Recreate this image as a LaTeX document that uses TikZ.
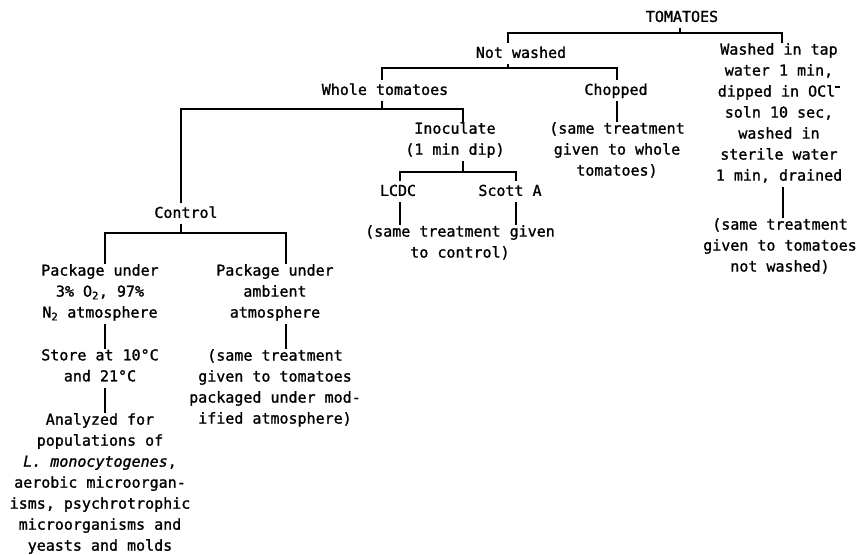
\documentclass[tikz,border=0pt]{standalone}
\usepackage{fontspec}
\setmonofont{DejaVu Sans Mono}[FakeBold=1.2]
\begin{document}
\begin{tikzpicture}[x=1pt,y=-1pt,
  lbl/.style={anchor=north,align=center,inner sep=0pt,font=\ttfamily\fontsize{15}{21}\selectfont,
    execute at begin node=\strut,execute at end node=\strut},
  conn/.style={line width=2.4pt,line join=miter,line cap=butt}]
\useasboundingbox (0,0) rectangle (859,554);
% nodes
\node[lbl] (tom) at (682,7) {TOMATOES};
\node[lbl] (notw) at (521,43) {Not washed};
\node[lbl] (wash) at (779,43) {Washed in tap\\water 1 min,\\dipped in OCl\raisebox{8.5pt}{\rule{5pt}{1.6pt}}\\soln 10 sec,\\washed in\\sterile water\\1 min, drained};
\node[lbl] (washnote) at (780,218) {(same treatment\\given to tomatoes\\not washed)};
\node[lbl] (whole) at (385,80) {Whole tomatoes};
\node[lbl] (chop) at (616,80) {Chopped};
\node[lbl] (chopnote) at (617,122) {(same treatment\\given to whole\\tomatoes)};
\node[lbl] (inoc) at (455,122) {Inoculate\\(1 min dip)};
\node[lbl] (lcdc) at (398,181) {LCDC};
\node[lbl] (scott) at (510,181) {Scott A};
\node[lbl] (ctrlnote) at (460,225) {(same treatment given\\to control)};
\node[lbl] (ctrl) at (186,203) {Control};
\node[lbl] (pkga) at (100,264) {Package under\\3\% O\textsubscript{2}, 97\%\\N\textsubscript{2} atmosphere};
\node[lbl] (store) at (100,349) {Store at 10°C\\and 21°C};
\node[lbl] (anal) at (100,413) {Analyzed for\\populations of\\\textit{L. monocytogenes},\\aerobic microorgan-\\isms, psychrotrophic\\microorganisms and\\yeasts and molds};
\node[lbl] (pkgb) at (275,264) {Package under\\ambient\\atmosphere};
\node[lbl] (pkgbnote) at (275,349) {(same treatment\\given to tomatoes\\packaged under mod-\\ified atmosphere)};
% connectors
\draw[conn] (tom.south -| 680,0) -- (680,33);
\draw[conn] (notw.north -| 508,0) |- (782,33) -- (wash.north -| 782,0);
\draw[conn] (notw.south -| 508,0) -- (508,68);
\draw[conn] (whole.north -| 382,0) |- (617,68) -- (chop.north -| 617,0);
\draw[conn] (chop.south -| 617,0) -- (chopnote.north -| 617,0);
\draw[conn] (wash.south -| 783,0) -- (washnote.north -| 783,0);
\draw[conn] (whole.south -| 382,0) -- (382,109);
\draw[conn] (ctrl.north -| 181,0) |- (463,109) -- (inoc.north -| 463,0);
\draw[conn] (inoc.south -| 463,0) -- (463,172);
\draw[conn] (lcdc.north -| 400,0) |- (516,172) -- (scott.north -| 516,0);
\draw[conn] (lcdc.south -| 400,0) -- (ctrlnote.north -| 400,0);
\draw[conn] (scott.south -| 516,0) -- (ctrlnote.north -| 516,0);
\draw[conn] (ctrl.south -| 181,0) -- (181,233);
\draw[conn] (pkga.north -| 105,0) |- (286,233) -- (pkgb.north -| 286,0);
\draw[conn] (pkga.south -| 105,0) -- (store.north -| 105,0);
\draw[conn] (store.south -| 105,0) -- (anal.north -| 105,0);
\draw[conn] (pkgb.south -| 286,0) -- (pkgbnote.north -| 286,0);
\end{tikzpicture}
\end{document}
